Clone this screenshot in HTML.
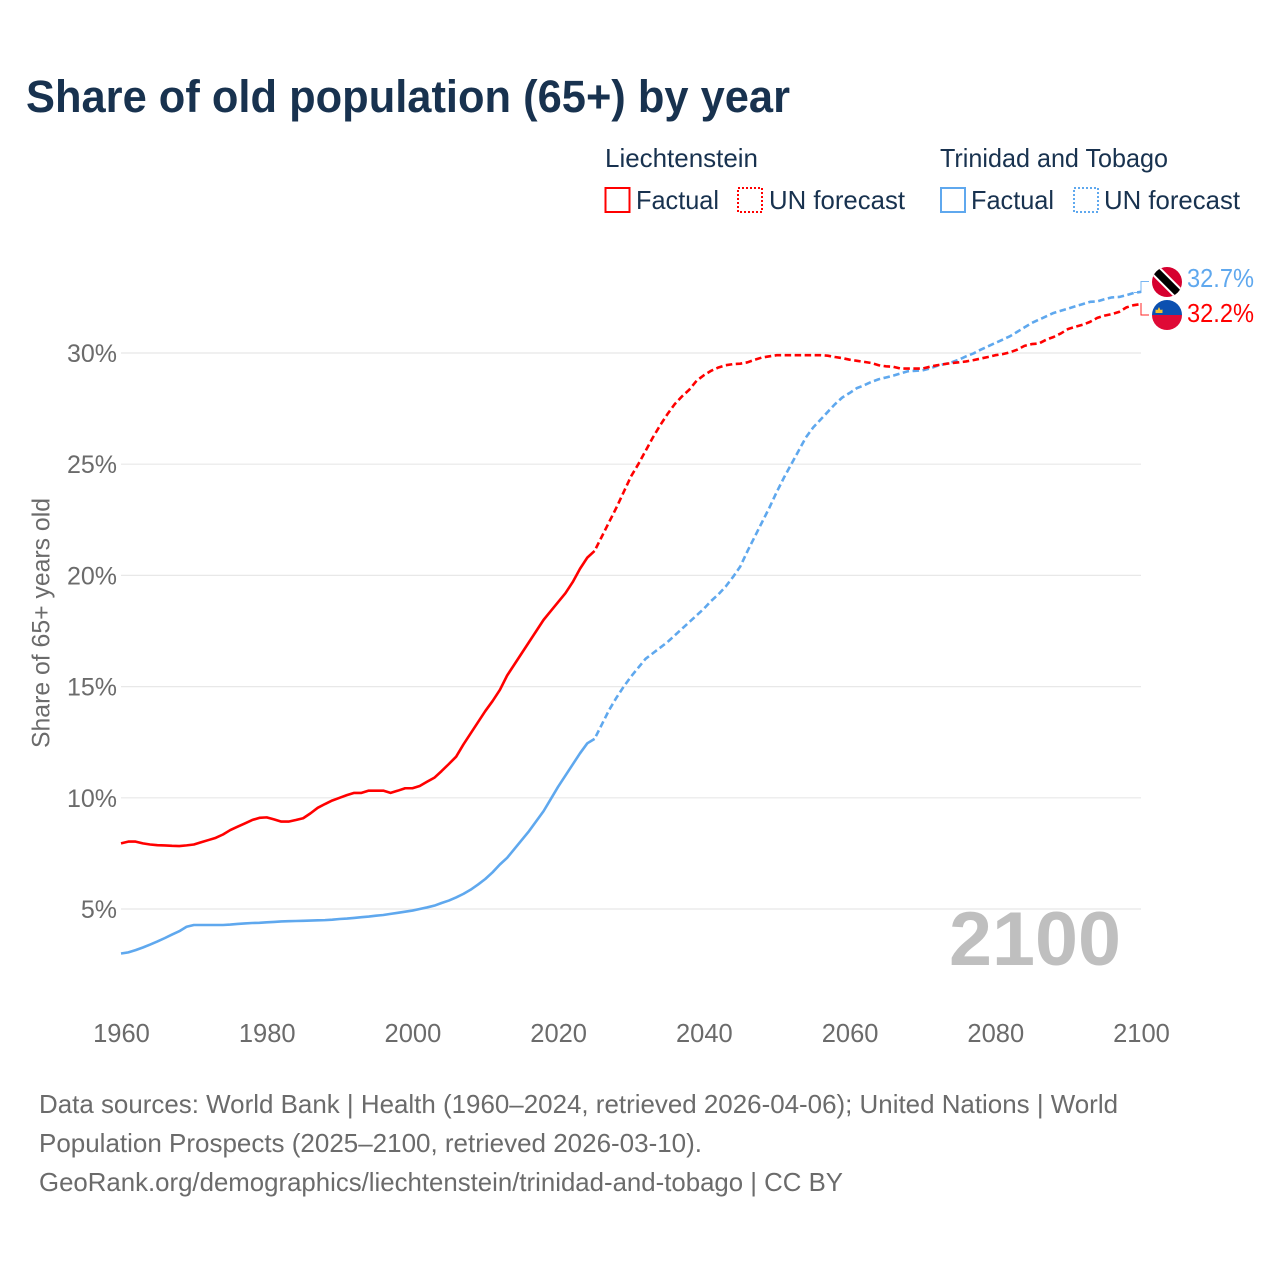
<!DOCTYPE html>
<html lang="en">
<head>
<meta charset="utf-8">
<title>Share of old population (65+) by year</title>
<style>
html,body{margin:0;padding:0;background:#fff;}
svg{display:block;}
text{font-family:"Liberation Sans",sans-serif;}
</style>
</head>
<body>
<svg id="chart" xmlns="http://www.w3.org/2000/svg" width="1280" height="1280" viewBox="0 0 1280 1280">
<defs>
<clipPath id="flag-clip-a"><circle cx="1167" cy="282" r="15"/></clipPath>
<clipPath id="flag-clip-b"><circle cx="1167" cy="315" r="15"/></clipPath>
</defs>
<rect x="0" y="0" width="1280" height="1280" fill="#fff"/>
<text x="26" y="112" font-size="45" font-weight="700" fill="#18324f" textLength="764" lengthAdjust="spacingAndGlyphs">Share of old population (65+) by year</text>

<g font-size="26" fill="#18324f">
<text x="605" y="167" textLength="153" lengthAdjust="spacingAndGlyphs">Liechtenstein</text>
<rect x="605.500" y="188" width="24" height="24" fill="none" stroke="#ff0000" stroke-width="2"/>
<text x="636" y="209" textLength="83" lengthAdjust="spacingAndGlyphs">Factual</text>
<rect x="738" y="188" width="24" height="24" fill="none" stroke="#ff0000" stroke-width="2" stroke-dasharray="2 2"/>
<text x="769" y="209" textLength="136" lengthAdjust="spacingAndGlyphs">UN forecast</text>
<text x="940" y="167" textLength="228" lengthAdjust="spacingAndGlyphs">Trinidad and Tobago</text>
<rect x="941" y="188" width="24" height="24" fill="none" stroke="#5fa8ee" stroke-width="2"/>
<text x="971" y="209" textLength="83" lengthAdjust="spacingAndGlyphs">Factual</text>
<rect x="1074" y="188" width="24" height="24" fill="none" stroke="#5fa8ee" stroke-width="2" stroke-dasharray="2 2"/>
<text x="1104" y="209" textLength="136" lengthAdjust="spacingAndGlyphs">UN forecast</text>
</g>

<text transform="translate(49.500,623) rotate(-90)" text-anchor="middle" font-size="25" fill="#6b6b6b" textLength="250" lengthAdjust="spacingAndGlyphs">Share of 65+ years old</text>

<g id="grid"></g>
<g id="yticks"></g>
<g id="xticks"></g>

<text x="949" y="965" font-size="76" font-weight="700" fill="#bfbfbf" textLength="172" lengthAdjust="spacingAndGlyphs">2100</text>

<g id="series"></g>

<path d="M1134 292.500H1141V281.500H1149" fill="none" stroke="#5fa8ee" stroke-opacity="0.85" stroke-width="1"/>
<path d="M1141 303V315H1149" fill="none" stroke="#ff0000" stroke-opacity="0.85" stroke-width="1"/>

<g clip-path="url(#flag-clip-a)">
<rect x="1150" y="265" width="34" height="34" fill="#d6002f"/>
<path d="M1150 265L1184 299" stroke="#ffffff" stroke-width="11.5"/>
<path d="M1150 265L1184 299" stroke="#000000" stroke-width="7.5"/>
</g>
<g clip-path="url(#flag-clip-b)">
<rect x="1150" y="298" width="34" height="17" fill="#0b50b0"/>
<rect x="1150" y="315" width="34" height="17" fill="#df0a36"/>
<path d="M1155.500 313V309.500L1157.500 310L1159 307L1160.500 310L1162.500 309.500V313Z" fill="#f2c230"/>
</g>

<text x="1187" y="287" font-size="26" fill="#5fa8ee" textLength="67" lengthAdjust="spacingAndGlyphs">32.7%</text>
<text x="1187" y="322" font-size="26" fill="#ff0000" textLength="67" lengthAdjust="spacingAndGlyphs">32.2%</text>

<g font-size="26" fill="#6b6b6b">
<text x="39" y="1113" textLength="1079" lengthAdjust="spacingAndGlyphs">Data sources: World Bank | Health (1960–2024, retrieved 2026-04-06); United Nations | World</text>
<text x="39" y="1152" textLength="663" lengthAdjust="spacingAndGlyphs">Population Prospects (2025–2100, retrieved 2026-03-10).</text>
<text x="39" y="1191" textLength="804" lengthAdjust="spacingAndGlyphs">GeoRank.org/demographics/liechtenstein/trinidad-and-tobago | CC BY</text>
</g>
</svg>
<script>
const xTickYears = [1960, 1980, 2000, 2020, 2040, 2060, 2080, 2100];
const yTickValues = [5, 10, 15, 20, 25, 30];
const factualStartYear = 1960;
const forecastStartYear = 2025;
const liechtensteinFactual = [
7.95,8.03,8.03,7.95,7.9,7.87,7.86,7.84,7.83,7.86,
7.9,8.0,8.1,8.2,8.35,8.55,8.7,8.85,9.0,9.1,
9.12,9.03,8.93,8.93,9.0,9.08,9.3,9.55,9.72,9.88,
10.0,10.12,10.22,10.22,10.32,10.32,10.32,10.22,10.32,10.43,
10.43,10.53,10.72,10.9,11.2,11.52,11.85,12.4,12.9,13.4,
13.9,14.35,14.85,15.5,16.0,16.5,17.0,17.5,18.0,18.4,
18.8,19.2,19.7,20.3,20.8,21.1];
const liechtensteinForecast = [
21.1,21.75,22.4,23.05,23.75,24.45,25.0,25.6,26.2,26.75,
27.25,27.7,28.05,28.35,28.75,29.0,29.2,29.35,29.45,29.5,
29.52,29.58,29.7,29.8,29.85,29.9,29.9,29.9,29.9,29.9,
29.9,29.9,29.88,29.82,29.77,29.7,29.65,29.6,29.55,29.45,
29.4,29.38,29.3,29.3,29.3,29.3,29.38,29.45,29.5,29.55,
29.58,29.62,29.68,29.75,29.82,29.9,29.95,30.03,30.15,30.32,
30.4,30.43,30.6,30.72,30.88,31.08,31.18,31.27,31.4,31.58,
31.68,31.75,31.85,32.05,32.15,32.2];
const trinidadFactual = [
3.0,3.05,3.15,3.27,3.4,3.54,3.69,3.85,4.0,4.2,
4.28,4.28,4.28,4.28,4.28,4.3,4.33,4.35,4.37,4.38,
4.4,4.42,4.44,4.45,4.46,4.47,4.48,4.49,4.5,4.52,
4.55,4.57,4.6,4.63,4.66,4.7,4.73,4.78,4.83,4.88,
4.93,5.0,5.07,5.15,5.27,5.38,5.52,5.68,5.87,6.1,
6.35,6.65,7.0,7.3,7.7,8.1,8.5,8.95,9.4,9.95,
10.5,11.0,11.5,12.0,12.45,12.65];
const trinidadForecast = [
12.65,13.3,13.95,14.5,15.0,15.45,15.85,16.25,16.5,16.75,
17.0,17.3,17.6,17.9,18.2,18.5,18.85,19.15,19.5,19.93,
20.4,21.1,21.75,22.4,23.05,23.75,24.4,25.0,25.6,26.2,
26.65,27.0,27.35,27.7,28.0,28.2,28.42,28.55,28.7,28.82,
28.9,28.98,29.08,29.18,29.2,29.22,29.3,29.42,29.5,29.58,
29.7,29.85,29.98,30.15,30.3,30.45,30.6,30.75,30.95,31.15,
31.35,31.5,31.65,31.8,31.9,32.0,32.1,32.2,32.3,32.32,
32.42,32.5,32.52,32.6,32.7,32.75];

const SVG_NS = 'http://www.w3.org/2000/svg';
function xScale(year) { return 121 + (year - 1960) * (1020 / 140); }
function yScale(value) { return 909 - (value - 5) * (556 / 25); }

const grid = document.getElementById('grid');
const yticks = document.getElementById('yticks');
const xticks = document.getElementById('xticks');
const seriesGroup = document.getElementById('series');

yTickValues.forEach(function (v) {
  const line = document.createElementNS(SVG_NS, 'line');
  
  
  line.setAttribute('x1', xScale(1960));
  line.setAttribute('x2', xScale(2100));
  line.setAttribute('y1', yScale(v));
  line.setAttribute('y2', yScale(v));
  line.setAttribute('stroke', '#e8e8e8');
  line.setAttribute('stroke-width', '1.2');
  grid.appendChild(line);

  const label = document.createElementNS(SVG_NS, 'text');
  
  
  label.setAttribute('x', 117);
  label.setAttribute('y', yScale(v) + 9);
  label.setAttribute('text-anchor', 'end');
  label.setAttribute('font-size', '25');
  label.setAttribute('fill', '#6b6b6b');
  label.textContent = v + '%';
  yticks.appendChild(label);
});

xTickYears.forEach(function (y) {
  const label = document.createElementNS(SVG_NS, 'text');
  
  
  label.setAttribute('x', xScale(y) + 0.5);
  label.setAttribute('y', 1042);
  label.setAttribute('text-anchor', 'middle');
  label.setAttribute('font-size', '25.500');
  label.setAttribute('fill', '#6b6b6b');
  label.textContent = y;
  xticks.appendChild(label);
});

function drawLine(values, startYear, color, dashed, name) {
  const path = document.createElementNS(SVG_NS, 'path');
  
  
  const d = values.map(function (v, i) {
    return (i ? 'L' : 'M') + xScale(startYear + i).toFixed(2) + ' ' + yScale(v).toFixed(2);
  }).join('');
  path.setAttribute('d', d);
  path.setAttribute('fill', 'none');
  path.setAttribute('stroke', color);
  path.setAttribute('stroke-width', '2.6');
  path.setAttribute('stroke-linejoin', 'round');
  if (dashed) {
    path.setAttribute('stroke-dasharray', '6.5 3.5');
    path.setAttribute('stroke-dashoffset', '-3');
  }
  seriesGroup.appendChild(path);
}

drawLine(trinidadFactual, factualStartYear, '#5fa8ee', false, 'line-trinidad-factual');
drawLine(trinidadForecast, forecastStartYear, '#5fa8ee', true, 'line-trinidad-forecast');
drawLine(liechtensteinFactual, factualStartYear, '#ff0000', false, 'line-liechtenstein-factual');
drawLine(liechtensteinForecast, forecastStartYear, '#ff0000', true, 'line-liechtenstein-forecast');
</script>
</body>
</html>
